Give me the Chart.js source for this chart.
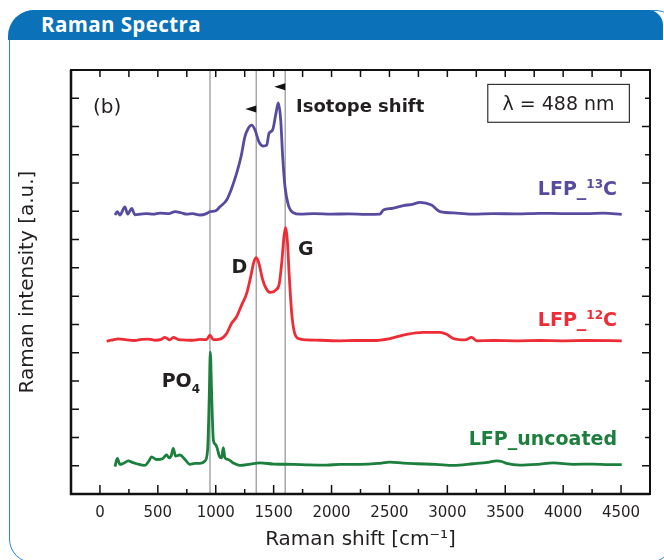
<!DOCTYPE html>
<html>
<head>
<meta charset="utf-8">
<script src="https://cdn.jsdelivr.net/npm/chart.js@4.4.0/dist/chart.umd.min.js"></script>
<style>
  html, body { margin: 0; padding: 0; background: #fff; }
  body { width: 664px; height: 560px; position: relative; overflow: hidden; }
  #panel {
    position: absolute; left: 9px; top: 10px; width: 664px; height: 553px;
    border: 1.5px solid #2c87d2; border-radius: 26px 16px 24px 24px; box-sizing: border-box;
  }
  #header {
    position: absolute; left: 8px; top: 10px; width: 655px; height: 30px;
    background: #0b72ba; border-radius: 26px 15px 0 0;
    color: #fff; font: bold 20.5px "Open Sans", sans-serif; line-height: 29px; letter-spacing: 0.4px;
    padding-left: 33px; box-sizing: border-box;
  }
  #chart { position: absolute; left: 0; top: 0; }
</style>
</head>
<body>
<div id="panel"></div>
<div id="header">Raman Spectra</div>
<canvas id="chart" width="664" height="560"></canvas>
<script>
// --- data (Raman shift in cm-1, offset intensity in a.u.) ---
const shiftUncoated = [130, 150, 172, 200, 245, 280, 317, 389, 420, 446, 489, 540, 576, 596, 615, 633, 653, 691, 734, 777, 820, 864, 907, 930, 944, 953, 965, 979, 996, 1011, 1031, 1051, 1065, 1079, 1108, 1151, 1209, 1300, 1382, 1500, 1670, 1800, 1958, 2073, 2245, 2400, 2505, 2620, 2735, 2900, 3052, 3224, 3350, 3426, 3470, 3512, 3627, 3780, 3915, 4088, 4250, 4400, 4506];
const intUncoated = [0.97, 1.26, 1.05, 1.08, 1.17, 1.12, 1.07, 1.01, 1.15, 1.31, 1.22, 1.25, 1.38, 1.28, 1.35, 1.61, 1.34, 1.38, 1.22, 1.05, 1.08, 1.08, 1.17, 1.58, 3.46, 5.02, 3.46, 1.93, 1.76, 1.64, 1.34, 1.28, 1.64, 1.28, 1.22, 1.10, 1.01, 1.06, 1.10, 1.06, 1.05, 1.03, 1.02, 1.05, 1.05, 1.08, 1.13, 1.09, 1.07, 1.05, 1.01, 1.07, 1.12, 1.17, 1.15, 1.08, 1.02, 1.05, 1.10, 1.05, 1.06, 1.04, 1.04];

const shift12C = [58, 100, 158, 230, 300, 360, 418, 480, 530, 561, 604, 633, 680, 720, 800, 864, 920, 950, 979, 1036, 1094, 1137, 1180, 1224, 1267, 1302, 1330, 1350, 1373, 1402, 1434, 1474, 1520, 1549, 1572, 1589, 1604, 1618, 1635, 1656, 1678, 1713, 1785, 1900, 2073, 2200, 2361, 2505, 2649, 2793, 2937, 2994, 3052, 3152, 3210, 3253, 3400, 3600, 3800, 4000, 4200, 4506];
const int12C = [5.41, 5.44, 5.49, 5.45, 5.43, 5.47, 5.48, 5.44, 5.47, 5.54, 5.45, 5.54, 5.46, 5.45, 5.44, 5.47, 5.46, 5.62, 5.46, 5.48, 5.68, 6.04, 6.27, 6.69, 7.10, 7.69, 8.22, 8.36, 8.16, 7.63, 7.28, 7.13, 7.22, 7.45, 8.28, 9.10, 9.43, 8.98, 7.69, 6.39, 5.74, 5.50, 5.45, 5.44, 5.42, 5.43, 5.43, 5.50, 5.65, 5.72, 5.72, 5.65, 5.50, 5.45, 5.54, 5.42, 5.43, 5.42, 5.43, 5.42, 5.43, 5.42];

const shift13C = [130, 150, 172, 216, 239, 274, 302, 350, 403, 460, 518, 600, 648, 700, 749, 800, 864, 920, 950, 1000, 1036, 1094, 1137, 1180, 1218, 1252, 1281, 1310, 1339, 1373, 1411, 1440, 1460, 1491, 1520, 1540, 1561, 1578, 1598, 1627, 1670, 1727, 1850, 2000, 2150, 2300, 2418, 2447, 2520, 2620, 2700, 2764, 2864, 2937, 3081, 3224, 3400, 3600, 3800, 4000, 4200, 4350, 4506];
const int13C = [9.87, 9.99, 9.87, 10.16, 9.90, 10.10, 9.88, 9.90, 9.92, 9.90, 9.94, 9.92, 9.99, 9.95, 9.90, 9.92, 9.87, 9.92, 9.99, 10.02, 10.16, 10.40, 10.81, 11.34, 11.93, 12.64, 12.94, 13.05, 12.88, 12.46, 12.31, 12.34, 12.76, 12.88, 13.47, 13.84, 13.23, 11.93, 10.87, 10.22, 9.95, 9.90, 9.92, 9.90, 9.91, 9.89, 9.90, 10.05, 10.10, 10.20, 10.25, 10.32, 10.22, 9.99, 9.94, 9.90, 9.92, 9.91, 9.93, 9.92, 9.92, 9.94, 9.89];

const xTickLabels = [0, 500, 1000, 1500, 2000, 2500, 3000, 3500, 4000, 4500];
const markerShifts = [950, 1350, 1600];   // PO4, D and G band of the 12C sample
const arrowShifts = [1350, 1600];         // isotope shift arrows start at the 12C bands

const textColor = '#231f20';
const pts = (xs, ys) => xs.map((x, i) => ({ x, y: ys[i] }));

// draws "LFP_" + superscript + "C" style text, anchored at the right or left
function richText(ctx, parts, x, y, align) {
  let w = 0;
  parts.forEach(p => { ctx.font = p.font; w += ctx.measureText(p.t).width; });
  let cx = align === 'right' ? x - w : x;
  parts.forEach(p => {
    ctx.font = p.font;
    ctx.fillStyle = p.color;
    ctx.fillText(p.t, cx, y + (p.dy || 0));
    cx += ctx.measureText(p.t).width;
  });
}

const B = 'bold 19px "DejaVu Sans"';
const S = 'bold 12px "DejaVu Sans"';

const framePlugin = {
  id: 'frame',
  beforeDatasetsDraw(chart) {
    const { ctx, chartArea: a, scales: { x } } = chart;
    ctx.save();
    ctx.strokeStyle = '#a4a7a9';
    ctx.lineWidth = 1.5;
    markerShifts.forEach(v => {
      const px = x.getPixelForValue(v);
      ctx.beginPath(); ctx.moveTo(px, a.top); ctx.lineTo(px, a.bottom); ctx.stroke();
    });
    ctx.restore();
  },
  afterDatasetsDraw(chart) {
    const { ctx, chartArea: a, scales: { x, y } } = chart;
    ctx.save();
    // frame
    ctx.strokeStyle = '#111';
    ctx.lineWidth = 2;
    ctx.strokeRect(a.left, a.top, a.right - a.left, a.bottom - a.top);
    ctx.lineWidth = 2.5;
    ctx.beginPath(); ctx.moveTo(a.left, a.top); ctx.lineTo(a.left, a.bottom); ctx.lineTo(a.right, a.bottom); ctx.stroke();

    // inward ticks
    ctx.lineWidth = 1.5;
    for (let v = 0; v <= 4500; v += 250) {
      const px = x.getPixelForValue(v);
      const major = v % 500 === 0;
      ctx.beginPath();
      ctx.moveTo(px, a.bottom); ctx.lineTo(px, a.bottom - (major ? 9 : 5));
      ctx.moveTo(px, a.top); ctx.lineTo(px, a.top + 7);
      ctx.stroke();
    }
    for (let v = 1; v <= 14; v++) {
      const py = y.getPixelForValue(v);
      ctx.beginPath();
      ctx.moveTo(a.left, py); ctx.lineTo(a.left + 8, py);
      ctx.moveTo(a.right, py); ctx.lineTo(a.right - (v % 2 ? 8 : 5), py);
      ctx.stroke();
    }

    // annotations
    ctx.textBaseline = 'alphabetic';
    ctx.fillStyle = textColor;
    ctx.font = '20px "DejaVu Sans"';
    ctx.fillText('(b)', x.getPixelForValue(-60), y.getPixelForValue(13.48));

    ctx.font = 'bold 18px "DejaVu Sans"';
    ctx.fillText('Isotope shift', x.getPixelForValue(1693), y.getPixelForValue(13.52));

    // isotope shift arrows
    ctx.fillStyle = '#111';
    [13.62, 14.41].forEach((lev, i) => {
      const px = x.getPixelForValue(arrowShifts[i]);
      const py = y.getPixelForValue(lev);
      ctx.beginPath();
      ctx.moveTo(px, py - 3.5); ctx.lineTo(px, py + 3.5); ctx.lineTo(px - 11, py); ctx.closePath();
      ctx.fill();
    });

    // lambda box
    const bx0 = x.getPixelForValue(3349), bx1 = x.getPixelForValue(4572);
    const by0 = y.getPixelForValue(14.49), by1 = y.getPixelForValue(13.15);
    ctx.fillStyle = '#fff';
    ctx.fillRect(bx0, by0, bx1 - bx0, by1 - by0);
    ctx.strokeStyle = '#333';
    ctx.lineWidth = 1.2;
    ctx.strokeRect(bx0, by0, bx1 - bx0, by1 - by0);
    ctx.fillStyle = textColor;
    ctx.font = '19px "DejaVu Sans"';
    ctx.textAlign = 'center';
    ctx.fillText('\u03bb = 488 nm', (bx0 + bx1) / 2, by1 - 12);
    ctx.textAlign = 'left';

    // band labels
    ctx.font = 'bold 19px "DejaVu Sans"';
    ctx.fillText('D', x.getPixelForValue(1137), y.getPixelForValue(7.82));
    ctx.fillText('G', x.getPixelForValue(1710), y.getPixelForValue(8.45));
    richText(ctx, [
      { t: 'PO', font: B, color: textColor },
      { t: '4', font: S, color: textColor, dy: 6 }
    ], x.getPixelForValue(533), y.getPixelForValue(3.80), 'left');

    // sample labels
    const rx = x.getPixelForValue(4465);
    richText(ctx, [
      { t: 'LFP_', font: B, color: '#574ba0' },
      { t: '13', font: S, color: '#574ba0', dy: -7 },
      { t: 'C', font: B, color: '#574ba0' }
    ], rx, y.getPixelForValue(10.58), 'right');
    richText(ctx, [
      { t: 'LFP_', font: B, color: '#ee2c36' },
      { t: '12', font: S, color: '#ee2c36', dy: -7 },
      { t: 'C', font: B, color: '#ee2c36' }
    ], rx, y.getPixelForValue(5.94), 'right');
    richText(ctx, [
      { t: 'LFP_uncoated', font: B, color: '#1d7f3d' }
    ], rx, y.getPixelForValue(1.73), 'right');
    ctx.restore();
  }
};

const line = (label, data, color) => ({
  label, data, borderColor: color, backgroundColor: color,
  borderWidth: 2.8, pointRadius: 0, tension: 0.35, cubicInterpolationMode: 'monotone'
});

new Chart(document.getElementById('chart'), {
  type: 'line',
  data: {
    datasets: [
      line('LFP_uncoated', pts(shiftUncoated, intUncoated), '#1d7f3d'),
      line('LFP_12C', pts(shift12C, int12C), '#ee2c36'),
      line('LFP_13C', pts(shift13C, int13C), '#574ba0')
    ]
  },
  options: {
    responsive: false,
    devicePixelRatio: 1,
    animation: false,
    layout: { padding: { top: 70, right: 14, left: 0, bottom: 0 } },
    plugins: { legend: { display: false }, tooltip: { enabled: false } },
    scales: {
      x: {
        type: 'linear', min: -250, max: 4750,
        grid: { display: false, drawTicks: false },
        border: { display: false },
        afterBuildTicks: s => { s.ticks = xTickLabels.map(v => ({ value: v })); },
        afterFit: s => { s.height = 66; },
        ticks: { padding: 10, color: textColor, font: { family: 'DejaVu Sans', size: 15 }, maxRotation: 0,
                 callback: v => String(v) },
        title: { display: true, text: 'Raman shift [cm\u207b\u00b9]', color: textColor,
                 font: { family: 'DejaVu Sans', size: 20 }, padding: { bottom: 8 } }
      },
      y: {
        type: 'linear', min: 0, max: 15,
        grid: { display: false, drawTicks: false },
        border: { display: false },
        ticks: { display: false },
        afterFit: s => { s.width = 71; },
        title: { display: true, text: 'Raman intensity [a.u.]', color: textColor,
                 font: { family: 'DejaVu Sans', size: 20 }, padding: { top: 16 } }
      }
    }
  },
  plugins: [framePlugin]
});
</script>
</body>
</html>
